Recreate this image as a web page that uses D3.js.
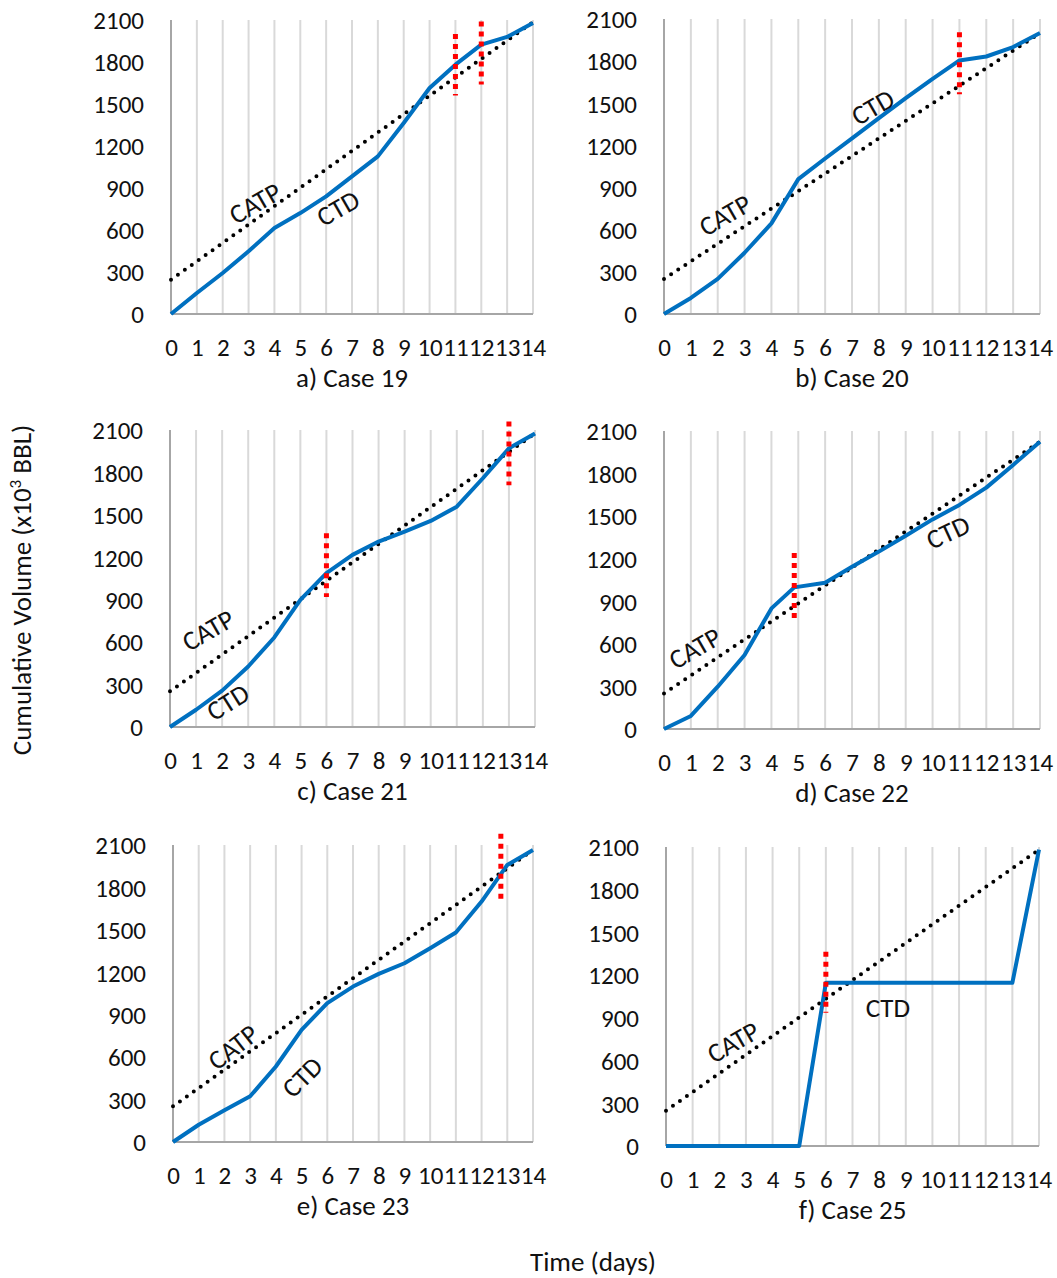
<!DOCTYPE html>
<html>
<head>
<meta charset="utf-8">
<script src="https://d3js.org/d3.v7.min.js"></script>
<style>
  body { margin: 0; background: #fff; }
  text { font-family: Carlito, Calibri, Lato, sans-serif; fill: #111; }
</style>
</head>
<body>
<svg id="vis" width="1057" height="1278"></svg>
<script>
// ---- data ----
var days = [0, 1, 2, 3, 4, 5, 6, 7, 8, 9, 10, 11, 12, 13, 14];
var daysD = [0, 1, 2, 3, 4, 4.85, 6, 7, 8, 9, 10, 11, 12, 13, 14];
var yTicks = [0, 300, 600, 900, 1200, 1500, 1800, 2100];
var titles = ["a) Case 19", "b) Case 20", "c) Case 21", "d) Case 22", "e) Case 23", "f) Case 25"];

var ctdA = [0, 150, 293, 448, 614, 721, 840, 983, 1126, 1364, 1614, 1781, 1924, 1979, 2079];
var ctdB = [0, 114, 250, 436, 645, 960, 1107, 1250, 1395, 1536, 1674, 1805, 1833, 1900, 2000];
var ctdC = [0, 122, 257, 428, 633, 899, 1088, 1217, 1311, 1382, 1457, 1558, 1759, 1970, 2076];
var ctdD = [0, 92, 298, 521, 850, 998, 1031, 1144, 1250, 1362, 1477, 1579, 1701, 1861, 2025];
var ctdE = [0, 122, 224, 323, 534, 793, 982, 1099, 1189, 1264, 1370, 1481, 1700, 1959, 2065];
var ctdF = [0, 0, 0, 0, 0, 0, 1146, 1146, 1146, 1146, 1146, 1146, 1146, 1146, 2081];

// CATP straight line: value at day 0 and day 14
var catpA = [245, 2085];
var catpB = [250, 2000];
var catpC = [252, 2076];
var catpD = [251, 2025];
var catpE = [252, 2065];
var catpF = [248, 2081];

// red markers: [day, from, to]
var redA = [[11, 1560, 2000], [12, 1640, 2090]];
var redB = [[11, 1565, 2005]];
var redC = [[6, 920, 1370], [13, 1710, 2160]];
var redD = [[4.85, 780, 1240]];
var redE = [[12.75, 1720, 2180]];
var redF = [[6, 935, 1365]];

// label anchors: [day, value, angle]
var lblCatp = [[3.25, 793, -30], [2.27, 705, -30], [1.46, 686, -30], [1.15, 571, -30], [2.33, 672, -38], [2.52, 730, -30]];
var lblCtd = [[6.46, 757, -30], [7.77, 1473, -30], [2.22, 177, -32], [10.57, 1388, -25], [5.02, 460, -45], [8.33, 969, 0]];

// ---- layout ----
var boxes = [
  {l: 171, r: 533, t: 20, b: 314},
  {l: 664, r: 1040, t: 19, b: 314},
  {l: 170, r: 535, t: 430, b: 727},
  {l: 664, r: 1040, t: 431, b: 729},
  {l: 173, r: 533, t: 845, b: 1142},
  {l: 666, r: 1039, t: 847, b: 1146}
];

var panels = [
  {x: days, ctd: ctdA, catp: catpA, red: redA},
  {x: days, ctd: ctdB, catp: catpB, red: redB},
  {x: days, ctd: ctdC, catp: catpC, red: redC},
  {x: daysD, ctd: ctdD, catp: catpD, red: redD},
  {x: days, ctd: ctdE, catp: catpE, red: redE},
  {x: days, ctd: ctdF, catp: catpF, red: redF}
];

var svg = d3.select("#vis");

panels.forEach(function(p, i) {
  var b = boxes[i];
  var sx = d3.scaleLinear().domain([0, 14]).range([b.l, b.r]);
  var sy = d3.scaleLinear().domain([0, 2100]).range([b.b, b.t]);
  var g = svg.append("g");

  // vertical grid
  g.selectAll(".grid").data(days.slice(1)).enter().append("line")
    .attr("x1", d => sx(d)).attr("x2", d => sx(d))
    .attr("y1", sy(2100)).attr("y2", sy(0))
    .attr("stroke", "#d9d9d9").attr("stroke-width", 2);

  // axes lines
  g.append("line").attr("x1", sx(0)).attr("x2", sx(0)).attr("y1", sy(2100)).attr("y2", sy(0))
    .attr("stroke", "#a6a6a6").attr("stroke-width", 2);
  g.append("line").attr("x1", sx(0)).attr("x2", sx(14)).attr("y1", sy(0)).attr("y2", sy(0))
    .attr("stroke", "#a6a6a6").attr("stroke-width", 2);

  // axis labels
  var yAxis = d3.axisLeft(sy).tickValues(yTicks).tickFormat(d3.format("d")).tickSize(0).tickPadding(27);
  var gy = g.append("g").attr("transform", "translate(" + b.l + ",0)").call(yAxis);
  gy.select(".domain").remove();
  gy.selectAll("text").style("font-size", "25px").attr("dy", "0.35em");

  var xAxis = d3.axisBottom(sx).tickValues(days).tickSize(0).tickPadding(33);
  var gx = g.append("g").attr("transform", "translate(0," + b.b + ")").call(xAxis);
  gx.select(".domain").remove();
  gx.selectAll("text").style("font-size", "25px").attr("dy", "0.35em");

  g.append("text").attr("x", (b.l + b.r) / 2).attr("y", b.b + 64)
    .attr("text-anchor", "middle").attr("dy", "0.35em")
    .style("font-size", "27px").text(titles[i]);

  // CATP dotted
  g.append("line")
    .attr("x1", sx(0)).attr("y1", sy(p.catp[0]))
    .attr("x2", sx(14)).attr("y2", sy(p.catp[1]))
    .attr("stroke", "#000").attr("stroke-width", 4)
    .attr("stroke-linecap", "round").attr("stroke-dasharray", "0 8.5");

  // CTD
  var line = d3.line().x((d, j) => sx(p.x[j])).y(d => sy(d));
  g.append("path").datum(p.ctd).attr("d", line)
    .attr("fill", "none").attr("stroke", "#0070c0").attr("stroke-width", 4)
    .attr("stroke-linejoin", "round");

  // red markers
  g.selectAll(".red").data(p.red).enter().append("line")
    .attr("x1", d => sx(d[0])).attr("x2", d => sx(d[0]))
    .attr("y1", d => sy(d[2])).attr("y2", d => sy(d[1]))
    .attr("stroke", "#ff0000").attr("stroke-width", 5)
    .attr("stroke-dasharray", "5 5");

  // annotations
  [["CATP", lblCatp[i]], ["CTD", lblCtd[i]]].forEach(function(a) {
    var px = sx(a[1][0]), py = sy(a[1][1]);
    g.append("text")
      .attr("transform", "translate(" + px + "," + py + ") rotate(" + a[1][2] + ")")
      .attr("text-anchor", "middle").attr("dy", "0.35em")
      .style("font-size", "27px").text(a[0]);
  });
});

// shared axis titles
svg.append("text").attr("transform", "translate(22,590) rotate(-90)")
  .attr("text-anchor", "middle").attr("dy", "0.35em").style("font-size", "27px")
  .html("Cumulative Volume (x10<tspan dy='-10' font-size='17px'>3</tspan><tspan dy='10'> BBL)</tspan>");
svg.append("text").attr("x", 593).attr("y", 1262)
  .attr("text-anchor", "middle").attr("dy", "0.35em").style("font-size", "27px")
  .text("Time (days)");
</script>
</body>
</html>
